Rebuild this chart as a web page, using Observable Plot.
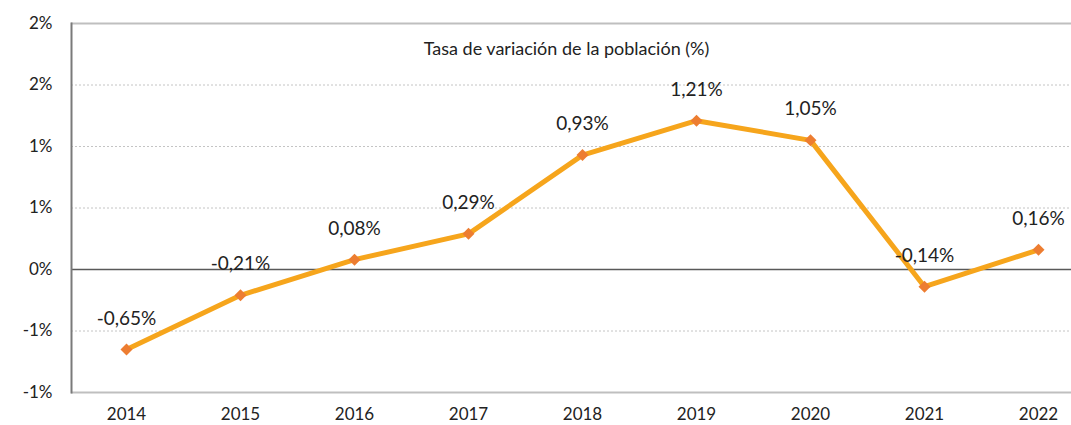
<!DOCTYPE html>
<html>
<head>
<meta charset="utf-8">
<script src="https://cdn.jsdelivr.net/npm/d3@7"></script>
<script src="https://cdn.jsdelivr.net/npm/@observablehq/plot@0.6"></script>
<style>
  html, body { margin: 0; padding: 0; background: #fff; overflow: hidden; }
  #chart svg { display: block; }
</style>
</head>
<body>
<div id="chart"></div>
<script>
const years = ["2014","2015","2016","2017","2018","2019","2020","2021","2022"];
const rates = [-0.65, -0.21, 0.08, 0.29, 0.93, 1.21, 1.05, -0.14, 0.16];
const yTicks = [-1, -0.5, 0, 0.5, 1, 1.5, 2];
const yTickLabels = ["-1%", "-1%", "0%", "1%", "1%", "2%", "2%"];
const gridValues = [-0.5, 0.5, 1, 1.5];
const title = "Tasa de variación de la población (%)";

const data = years.map((y, i) => ({year: y, rate: rates[i]}));
const fmt = v => v.toFixed(2).replace(".", ",") + "%";
const font = "Lato, 'Open Sans', sans-serif";

const chart = Plot.plot({
  width: 1071,
  height: 425,
  marginLeft: 71,
  marginRight: 0,
  marginTop: 23,
  marginBottom: 33,
  style: {fontFamily: font, color: "#222", background: "#fff"},
  x: {type: "point", domain: years, range: [124, 1040], padding: 0},
  y: {domain: [-1, 2]},
  marks: [
    Plot.ruleY(gridValues, {stroke: "#c4c4c4", strokeWidth: 1, strokeDasharray: "2,2"}),
    Plot.ruleY([2, -1], {stroke: "#bfbfbf", strokeWidth: 2}),
    Plot.ruleY([0], {stroke: "#595959", strokeWidth: 1.5}),
    Plot.frame({anchor: "left", stroke: "#7a7a7a", strokeWidth: 2}),
    Plot.axisY({
      ticks: yTicks,
      tickFormat: (d) => yTickLabels[yTicks.indexOf(d)],
      tickSize: 0, tickPadding: 19, fontSize: 17, label: null
    }),
    Plot.axisX({tickSize: 0, tickPadding: 15, fontSize: 17, label: null}),
    Plot.line(data, {x: "year", y: "rate", stroke: "#f6a51c", strokeWidth: 5, strokeLinejoin: "round"}),
    Plot.dot(data, {x: "year", y: "rate", symbol: "diamond2", r: 5.4, fill: "#ed7d31", stroke: "none"}),
    Plot.text(data, {x: "year", y: "rate", text: d => fmt(d.rate), dy: -31, fontSize: 19, fill: "#222"}),
    Plot.text([title], {frameAnchor: "top", dx: -5, dy: 19, fontSize: 18, fill: "#222"})
  ]
});
document.getElementById("chart").appendChild(chart);
</script>
</body>
</html>
